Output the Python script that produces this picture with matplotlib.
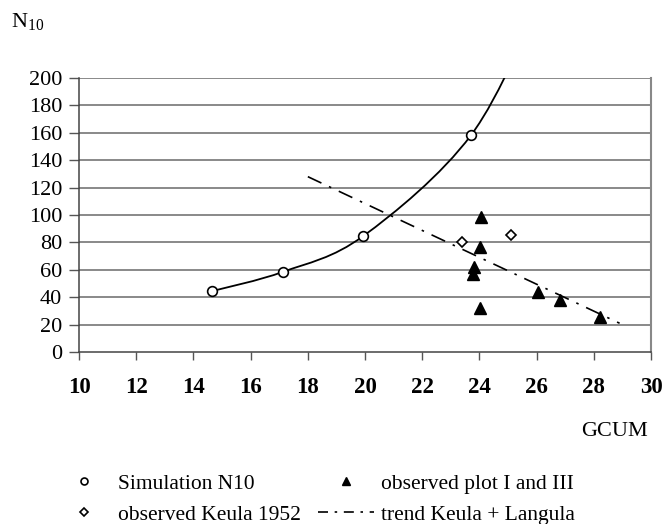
import numpy as np
import matplotlib
matplotlib.use("Agg")
import matplotlib.pyplot as plt
from matplotlib.path import Path
from matplotlib.patches import PathPatch
from matplotlib.lines import Line2D

plt.rcParams['font.family'] = ['Liberation Serif', 'DejaVu Serif']
plt.rcParams['mathtext.fontset'] = 'custom'
plt.rcParams['mathtext.rm'] = 'Liberation Serif'

# simulation N10 (last point lies above the plot, only the curve shows)
sim_x = [14.66, 17.14, 19.94, 23.71, 26.2]
sim_y = [44.5, 58.6, 84.7, 158.4, 260]

# observed plot I and III
obs_x = [24.06, 24.02, 23.82, 23.76, 24.02, 26.04, 26.8, 28.22]
obs_y = [98.5, 76.9, 61.8, 57.0, 31.9, 43.6, 38.0, 25.3]

# observed Keula 1952
keula_x = [23.40, 25.09]
keula_y = [80.0, 85.6]

# trend Keula + Langula
trend_x = [18.0, 28.9]
trend_y = [128.0, 21.0]

x_ticks = [10, 12, 14, 16, 18, 20, 22, 24, 26, 28, 30]
y_ticks = [0, 20, 40, 60, 80, 100, 120, 140, 160, 180, 200]


def smooth_path(xs, ys):
    # excel-like smoothed line, bezier with 1/6 tangents
    p = np.column_stack([xs, ys])
    n = len(p)
    verts = [p[0]]
    codes = [Path.MOVETO]
    for i in range(n - 1):
        p0 = p[i - 1] if i > 0 else p[i]
        p3 = p[i + 2] if i + 2 < n else p[i + 1]
        c1 = p[i] + (p[i + 1] - p0) / 6
        c2 = p[i + 1] - (p3 - p[i]) / 6
        verts += [c1, c2, p[i + 1]]
        codes += [Path.CURVE4] * 3
    return Path(verts, codes)


fig = plt.figure(figsize=(6.63, 5.24), dpi=100)
ax = fig.add_axes([0.1192, 0.3282, 0.8628, 0.5229])
ax.set_xlim(10, 30)
ax.set_ylim(0, 200)

for yv in y_ticks[1:]:
    ax.axhline(yv, color='#6a6a6a', lw=1.1, zorder=1)

curve = PathPatch(smooth_path(sim_x, sim_y), fill=False, edgecolor='black', lw=1.3, zorder=3)
ax.add_patch(curve)
ax.plot(sim_x, sim_y, 'o', ms=7, mfc='white', mec='black', mew=1.2, zorder=4)
ax.plot(trend_x, trend_y, color='black', lw=1.2, dashes=[9, 5, 1.5, 5], zorder=3)
ax.plot(obs_x, obs_y, '^', ms=8, color='black', zorder=4)
ax.plot(keula_x, keula_y, 'D', ms=5, mfc='white', mec='black', mew=1.2, zorder=4)

ax.set_xticks(x_ticks)
ax.set_yticks(y_ticks)
ax.set_xticklabels([str(v) for v in x_ticks], fontsize=16.5, fontweight='bold')
ax.set_yticklabels([str(v) for v in y_ticks], fontsize=16)
ax.tick_params(axis='x', direction='out', length=6, width=1, color='#555555', pad=12)
ax.tick_params(axis='y', direction='out', length=7, width=1, color='#555555', pad=5)
for s in ['left', 'bottom']:
    ax.spines[s].set_color('#444444')
    ax.spines[s].set_linewidth(1.1)
ax.spines['right'].set_color('#888888')
ax.spines['right'].set_linewidth(1.5)
ax.spines['top'].set_visible(False)

fig.text(0.017, 0.958, r'N$_{\mathrm{10}}$', fontsize=16, va='center', ha='left')
fig.text(0.977, 0.176, 'GCUM', fontsize=16, va='center', ha='right')

handles = [
    Line2D([], [], ls='none', marker='o', ms=5, mfc='white', mec='black', mew=1.2),
    Line2D([], [], ls='none', marker='D', ms=4, mfc='white', mec='black', mew=1.2),
    Line2D([], [], ls='none', marker='^', ms=5.5, color='black'),
    Line2D([], [], color='black', lw=1.2, dashes=[6, 4, 1.5, 4]),
]
labels = ['Simulation N10', 'observed Keula 1952', 'observed plot I and III', 'trend Keula + Langula']
fig.legend(handles, labels, ncol=2, loc='upper left', bbox_to_anchor=(0.084, 0.096),
           frameon=False, fontsize=15.5, handlelength=2.6, handletextpad=0.3,
           columnspacing=0.8, labelspacing=0.5, borderaxespad=0, borderpad=0)

fig.savefig('out.png', dpi=100)
